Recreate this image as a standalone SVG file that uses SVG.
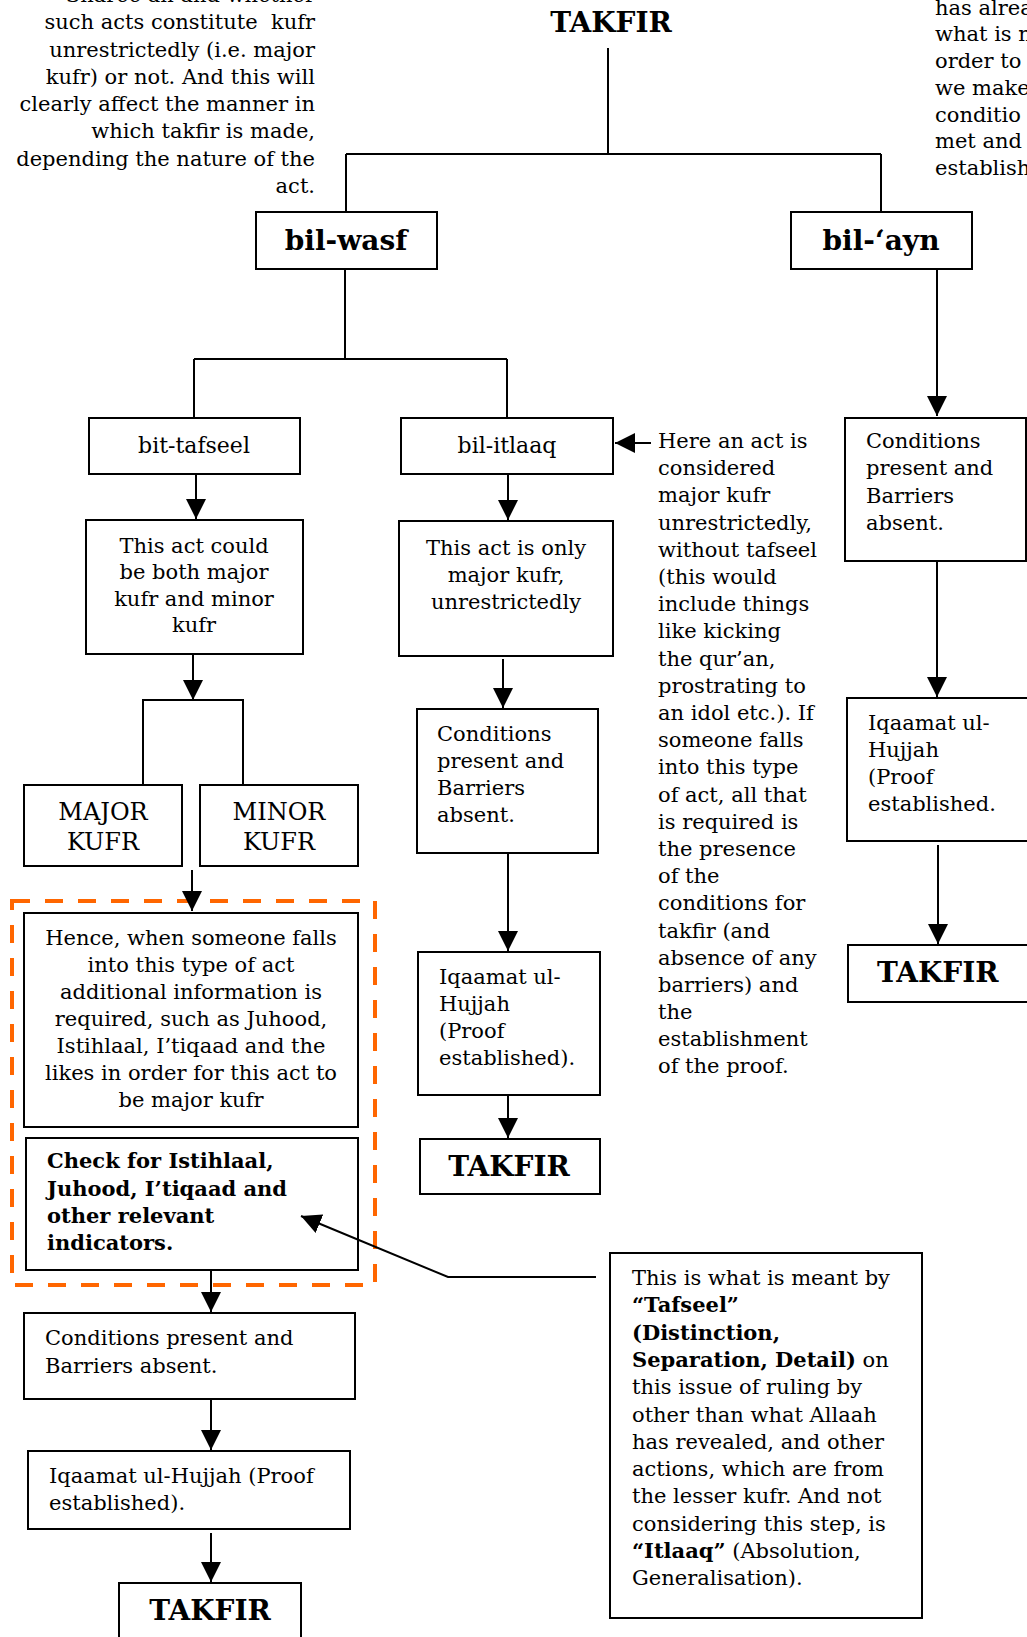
<svg xmlns="http://www.w3.org/2000/svg" width="1027" height="1637" viewBox="0 0 1027 1637">
<style>
text{font-family:"DejaVu Serif","Liberation Serif",serif;fill:#000;font-size:21px}
.b{font-weight:bold}
.lbl{font-size:22px}
.big{font-size:28px;font-weight:bold}
.kf{font-size:24px}
.c{text-anchor:middle}
.r{text-anchor:end}
rect.box{fill:#fff;stroke:#000;stroke-width:2}
.ln{stroke:#000;stroke-width:2;fill:none}
.ar{marker-end:url(#ah)}
</style>
<defs>
<marker id="ah" markerUnits="userSpaceOnUse" viewBox="0 0 20 20" markerWidth="20" markerHeight="20" refX="20" refY="10" orient="auto">
<path d="M0,0 L20,10 L0,20 z" fill="#000"/>
</marker>
</defs>
<rect width="1027" height="1637" fill="#fff"/>

<g id="intro-left">
<text class="r" x="315" y="2">Sharee‘ah and whether</text>
<text class="r" x="315" y="29" xml:space="preserve">such acts constitute  kufr</text>
<text class="r" x="315" y="57">unrestrictedly (i.e. major</text>
<text class="r" x="315" y="84">kufr) or not. And this will</text>
<text class="r" x="315" y="111">clearly affect the manner in</text>
<text class="r" x="315" y="138">which takfir is made,</text>
<text class="r" x="315" y="166">depending the nature of the</text>
<text class="r" x="315" y="193">act.</text>
</g>

<g id="intro-right">
<text x="935" y="15">has alrea</text>
<text x="935" y="41">what is n</text>
<text x="935" y="68">order to a</text>
<text x="935" y="95">we make</text>
<text x="935" y="122">conditio</text>
<text x="935" y="148">met and</text>
<text x="935" y="175">establish</text>
</g>

<g id="takfir-top">
<text class="big c" x="611" y="32">TAKFIR</text>
</g>

<g id="bil-wasf">
<rect class="box" x="256" y="212" width="181" height="57"/>
<text class="big c" x="346" y="250">bil-wasf</text>
</g>

<g id="bil-ayn">
<rect class="box" x="791" y="212" width="181" height="57"/>
<text class="big c" x="881" y="250">bil-‘ayn</text>
</g>

<g id="bit-tafseel">
<rect class="box" x="89" y="418" width="211" height="56"/>
<text class="lbl c" x="194" y="453">bit-tafseel</text>
</g>

<g id="bil-itlaaq">
<rect class="box" x="401" y="418" width="212" height="56"/>
<text class="lbl c" x="507" y="453">bil-itlaaq</text>
</g>

<g id="could-be-both">
<rect class="box" x="86" y="520" width="217" height="134"/>
<text class="c" x="194" y="553">This act could</text>
<text class="c" x="194" y="579">be both major</text>
<text class="c" x="194" y="606">kufr and minor</text>
<text class="c" x="194" y="632">kufr</text>
</g>

<g id="major-kufr">
<rect class="box" x="24" y="785" width="158" height="81"/>
<text class="kf c" x="103" y="820">MAJOR</text>
<text class="kf c" x="103" y="850">KUFR</text>
</g>

<g id="minor-kufr">
<rect class="box" x="200" y="785" width="158" height="81"/>
<text class="kf c" x="279" y="820">MINOR</text>
<text class="kf c" x="279" y="850">KUFR</text>
</g>

<g id="tafseel-group">
<rect x="12" y="901" width="363" height="384" fill="none" stroke="#FF6600" stroke-width="4" stroke-dasharray="18,15"/>
</g>

<g id="hence">
<rect class="box" x="24" y="913" width="334" height="214"/>
<text class="c" x="191" y="945">Hence, when someone falls</text>
<text class="c" x="191" y="972">into this type of act</text>
<text class="c" x="191" y="999">additional information is</text>
<text class="c" x="191" y="1026">required, such as Juhood,</text>
<text class="c" x="191" y="1053">Istihlaal, I’tiqaad and the</text>
<text class="c" x="191" y="1080">likes in order for this act to</text>
<text class="c" x="191" y="1107">be major kufr</text>
</g>

<g id="check">
<rect class="box" x="26" y="1138" width="332" height="132"/>
<text class="b" x="47" y="1168">Check for Istihlaal,</text>
<text class="b" x="47" y="1196">Juhood, I’tiqaad and</text>
<text class="b" x="47" y="1223">other relevant</text>
<text class="b" x="47" y="1250">indicators.</text>
</g>

<g id="conditions-left">
<rect class="box" x="24" y="1313" width="331" height="86"/>
<text x="45" y="1345">Conditions present and</text>
<text x="45" y="1373">Barriers absent.</text>
</g>

<g id="iqaamat-left">
<rect class="box" x="28" y="1451" width="322" height="78"/>
<text x="49" y="1483">Iqaamat ul-Hujjah (Proof</text>
<text x="49" y="1510">established).</text>
</g>

<g id="takfir-left">
<rect class="box" x="119" y="1583" width="182" height="70"/>
<text class="big c" x="210" y="1620">TAKFIR</text>
</g>

<g id="only-major">
<rect class="box" x="399" y="521" width="214" height="135"/>
<text class="c" x="506" y="555">This act is only</text>
<text class="c" x="506" y="582">major kufr,</text>
<text class="c" x="506" y="609">unrestrictedly</text>
</g>

<g id="conditions-mid">
<rect class="box" x="417" y="709" width="181" height="144"/>
<text x="437" y="741">Conditions</text>
<text x="437" y="768">present and</text>
<text x="437" y="795">Barriers</text>
<text x="437" y="822">absent.</text>
</g>

<g id="iqaamat-mid">
<rect class="box" x="418" y="952" width="182" height="143"/>
<text x="439" y="984">Iqaamat ul-</text>
<text x="439" y="1011">Hujjah</text>
<text x="439" y="1038">(Proof</text>
<text x="439" y="1065">established).</text>
</g>

<g id="takfir-mid">
<rect class="box" x="420" y="1139" width="180" height="55"/>
<text class="big c" x="509" y="1176">TAKFIR</text>
</g>

<g id="itlaaq-note">
<text x="658" y="448">Here an act is</text>
<text x="658" y="475">considered</text>
<text x="658" y="502">major kufr</text>
<text x="658" y="530">unrestrictedly,</text>
<text x="658" y="557">without tafseel</text>
<text x="658" y="584">(this would</text>
<text x="658" y="611">include things</text>
<text x="658" y="638">like kicking</text>
<text x="658" y="666">the qur’an,</text>
<text x="658" y="693">prostrating to</text>
<text x="658" y="720">an idol etc.). If</text>
<text x="658" y="747">someone falls</text>
<text x="658" y="774">into this type</text>
<text x="658" y="802">of act, all that</text>
<text x="658" y="829">is required is</text>
<text x="658" y="856">the presence</text>
<text x="658" y="883">of the</text>
<text x="658" y="910">conditions for</text>
<text x="658" y="938">takfir (and</text>
<text x="658" y="965">absence of any</text>
<text x="658" y="992">barriers) and</text>
<text x="658" y="1019">the</text>
<text x="658" y="1046">establishment</text>
<text x="658" y="1073">of the proof.</text>
</g>

<g id="conditions-right">
<rect class="box" x="845" y="418" width="181" height="143"/>
<text x="866" y="448">Conditions</text>
<text x="866" y="475">present and</text>
<text x="866" y="503">Barriers</text>
<text x="866" y="530">absent.</text>
</g>

<g id="iqaamat-right">
<rect class="box" x="847" y="698" width="200" height="143"/>
<text x="868" y="730">Iqaamat ul-</text>
<text x="868" y="757">Hujjah</text>
<text x="868" y="784">(Proof</text>
<text x="868" y="811">established.</text>
</g>

<g id="takfir-right">
<rect class="box" x="848" y="945" width="200" height="57"/>
<text class="big" x="877" y="982">TAKFIR</text>
</g>

<g id="tafseel-note">
<rect class="box" x="610" y="1253" width="312" height="365"/>
<text x="632" y="1285">This is what is meant by</text>
<text class="b" x="632" y="1312">“Tafseel”</text>
<text class="b" x="632" y="1340">(Distinction,</text>
<text x="632" y="1367"><tspan class="b">Separation, Detail)</tspan> on</text>
<text x="632" y="1394">this issue of ruling by</text>
<text x="632" y="1422">other than what Allaah</text>
<text x="632" y="1449">has revealed, and other</text>
<text x="632" y="1476">actions, which are from</text>
<text x="632" y="1503">the lesser kufr. And not</text>
<text x="632" y="1531">considering this step, is</text>
<text x="632" y="1558"><tspan class="b">“Itlaaq”</tspan> (Absolution,</text>
<text x="632" y="1585">Generalisation).</text>
</g>

<g id="connectors">
<path class="ln" d="M608,48 V154 M346,154 H881 M346,154 V212 M881,154 V212"/>
<path class="ln" d="M345,269 V359 M194,359 H507 M194,359 V418 M507,359 V418"/>
<line class="ln ar" x1="196" y1="474" x2="196" y2="519"/>
<line class="ln ar" x1="193" y1="655" x2="193" y2="700"/>
<path class="ln" d="M143,785 V700 H243 V785"/>
<line class="ln ar" x1="192" y1="870" x2="192" y2="911"/>
<line class="ln ar" x1="211" y1="1271" x2="211" y2="1312"/>
<line class="ln ar" x1="211" y1="1400" x2="211" y2="1450"/>
<line class="ln ar" x1="211" y1="1533" x2="211" y2="1582"/>
<line class="ln ar" x1="508" y1="475" x2="508" y2="520"/>
<line class="ln ar" x1="503" y1="659" x2="503" y2="708"/>
<line class="ln ar" x1="508" y1="854" x2="508" y2="951"/>
<line class="ln ar" x1="508" y1="1096" x2="508" y2="1138"/>
<line class="ln ar" x1="937" y1="270" x2="937" y2="416"/>
<line class="ln ar" x1="937" y1="562" x2="937" y2="697"/>
<line class="ln ar" x1="938" y1="845" x2="938" y2="944"/>
<line class="ln ar" x1="651" y1="443" x2="615" y2="443"/>
<polyline class="ln ar" points="596,1277 448,1277 301,1216"/>
</g>
</svg>
